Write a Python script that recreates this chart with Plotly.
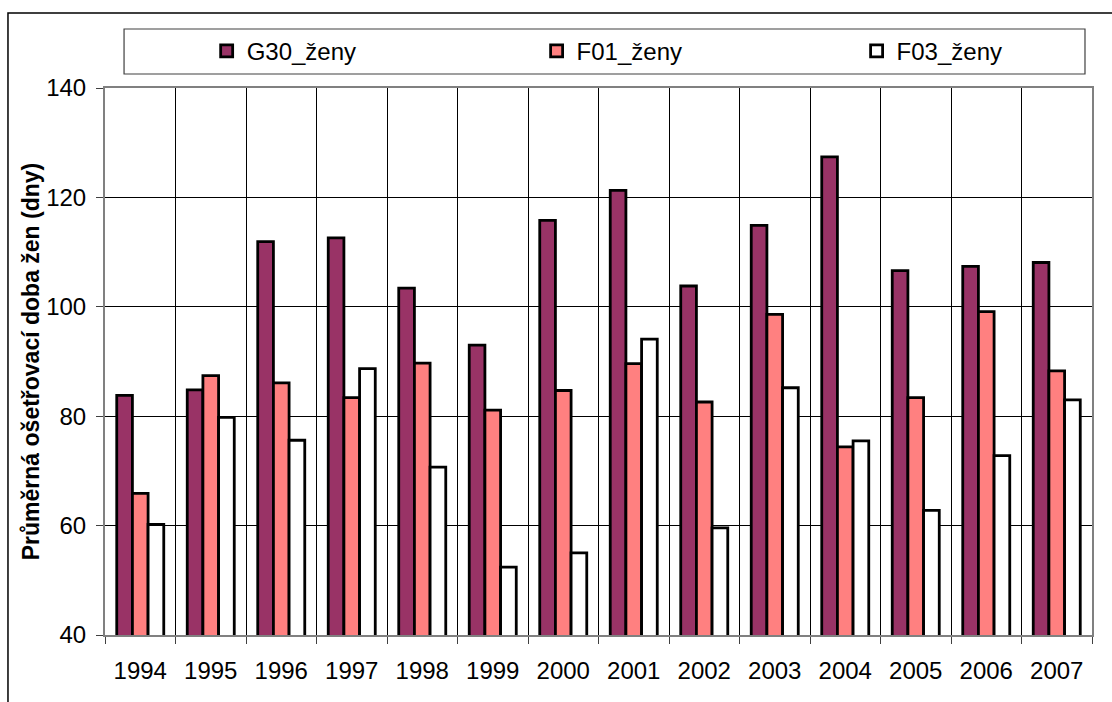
import plotly.graph_objects as go

years = ["1994", "1995", "1996", "1997", "1998", "1999", "2000",
         "2001", "2002", "2003", "2004", "2005", "2006", "2007"]

g30_zeny = [83.8, 84.8, 111.9, 112.6, 103.4, 93.0, 115.8,
            121.3, 103.8, 114.9, 127.4, 106.6, 107.4, 108.1]
f01_zeny = [65.9, 87.4, 86.1, 83.4, 89.7, 81.1, 84.7,
            89.6, 82.6, 98.6, 74.4, 83.4, 99.1, 88.3]
f03_zeny = [60.2, 79.8, 75.6, 88.7, 70.7, 52.4, 55.0,
            94.1, 59.6, 85.2, 75.5, 62.8, 72.8, 83.0]

# name, values, fill colour, legend id, legend x position (paper)
series = [
    ("G30_ženy", g30_zeny, "#993366", "legend", 0.103),
    ("F01_ženy", f01_zeny, "#FF8080", "legend2", 0.4373),
    ("F03_ženy", f03_zeny, "#FFFFFF", "legend3", 0.7615),
]

FONT = "Liberation Sans, Arial, sans-serif"
FS = 24

fig = go.Figure()
legends = {}
for name, vals, color, leg, lx in series:
    fig.add_trace(go.Bar(
        x=years, y=vals, name=name, legend=leg,
        marker=dict(color=color, line=dict(color="black", width=2.8)),
    ))
    legends[leg] = dict(
        orientation="h",
        x=lx, xanchor="left",
        y=1.067, yanchor="middle",
        font=dict(family=FONT, size=FS, color="black"),
        bgcolor="rgba(0,0,0,0)", borderwidth=0,
    )

fig.update_layout(
    width=1112, height=702,
    margin=dict(l=105, r=20, t=88, b=67),
    paper_bgcolor="white", plot_bgcolor="white",
    barmode="group", bargap=0.333, bargroupgap=0,
    font=dict(family=FONT, size=FS, color="black"),
    showlegend=True,
    **legends,
    xaxis=dict(
        type="category",
        tickson="boundaries",
        showgrid=True, gridcolor="black", gridwidth=1,
        showline=True, linecolor="#808080", linewidth=2, mirror=True,
        ticks="outside", ticklen=7, tickcolor="#404040", tickwidth=1,
        ticklabelstandoff=13,
        tickfont=dict(family=FONT, size=FS, color="black"),
        zeroline=False,
    ),
    yaxis=dict(
        range=[40, 140],
        tickmode="array", tickvals=[40, 60, 80, 100, 120, 140],
        showgrid=True, gridcolor="black", gridwidth=1,
        showline=True, linecolor="#808080", linewidth=2, mirror=True,
        ticks="outside", ticklen=7, tickcolor="#404040", tickwidth=1,
        ticklabelstandoff=5,
        tickfont=dict(family=FONT, size=FS, color="black"),
        title=dict(text="<b>Průměrná ošetřovací doba žen (dny)</b>",
                   font=dict(family=FONT, size=23, color="black"),
                   standoff=0),
        zeroline=False,
    ),
    shapes=[
        # outer chart frame
        dict(type="rect", xref="paper", yref="paper",
             x0=-0.0983, x1=1.05, y0=-0.2, y1=1.137,
             line=dict(color="black", width=1.5), fillcolor="rgba(0,0,0,0)",
             layer="below"),
        # legend box
        dict(type="rect", xref="paper", yref="paper",
             x0=0.0193, x1=0.9929, y0=1.0256, y1=1.1079,
             line=dict(color="#404040", width=1.2), fillcolor="rgba(0,0,0,0)"),
    ],
)

fig.write_html("out.html")
